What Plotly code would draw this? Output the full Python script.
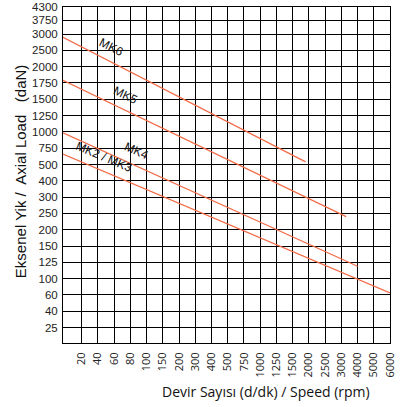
import numpy as np
import plotly.graph_objects as go

# Axis scales (tick values are evenly spaced on the chart, not linear/log)
rpm_ticks = [20, 40, 60, 80, 100, 150, 200, 300, 400, 500, 750, 1000,
             1250, 1500, 2000, 2500, 3000, 4000, 5000, 6000]
load_ticks = [25, 40, 60, 100, 125, 150, 200, 250, 300, 400, 500, 750,
              1000, 1250, 1500, 1750, 2000, 2500, 3000, 3750, 4300]

# Series: end points of each bearing line (rpm, daN); rpm 0 = left border
series_names = ['MK6', 'MK5', 'MK4', 'MK2 / MK3']
series_rpm = [[0, 1900], [0, 3300], [0, 4000], [0, 6000]]
series_load = [[2900, 540], [1790, 240], [985, 119], [660, 65]]

# position of each tick on the grid
x_pos = list(range(1, len(rpm_ticks) + 1))
y_pos = list(range(1, 20)) + [19.84, 20.66]
X_MIN, Y_MIN = -0.15, 0.05


def xscale(v):
    return np.interp(v, [0] + rpm_ticks, [X_MIN] + x_pos)


def yscale(v):
    return np.interp(v, load_ticks, y_pos)


line_color = '#f36b47'
fig = go.Figure()
for name, xs, ys in zip(series_names, series_rpm, series_load):
    fig.add_trace(go.Scatter(x=xscale(xs), y=yscale(ys), mode='lines',
                             line=dict(color=line_color, width=1.2),
                             name=name, showlegend=False, hoverinfo='skip'))

# rotated line labels (paper coords), sitting just above each line
labels = [('MK6', 0.147, 0.882, 27), ('MK5', 0.19, 0.738, 26),
          ('MK4', 0.226, 0.572, 24), ('MK2 / MK3', 0.125, 0.553, 23)]
for txt, ax, ay, ang in labels:
    fig.add_annotation(text=txt, x=ax, y=ay, xref='paper', yref='paper',
                       xanchor='center', yanchor='middle',
                       showarrow=False, textangle=ang,
                       font=dict(family='Liberation Sans, Arial', size=12, color='#111'))

# axis titles
fig.add_annotation(text='Devir Sayısı (d/dk) / Speed (rpm)', xref='paper', yref='paper',
                   x=0.62, y=-0.145, showarrow=False, xanchor='center', yanchor='middle',
                   font=dict(family='Open Sans', size=14, color='#111'))
fig.add_annotation(text='Eksenel Yik /  Axial Load   (daN)', xref='paper', yref='paper',
                   x=-0.13, y=0.51, showarrow=False, textangle=-90,
                   xanchor='center', yanchor='middle',
                   font=dict(family='Liberation Sans, Arial', size=15, color='#111'))

fig.update_xaxes(range=[X_MIN, x_pos[-1]], tickvals=x_pos,
                 ticktext=[str(v) for v in rpm_ticks], tickangle=-90,
                 showgrid=True, gridcolor='#000', gridwidth=1,
                 showline=True, linecolor='#000', linewidth=1, mirror=True,
                 zeroline=False, ticks='', ticklabelstandoff=4,
                 tickfont=dict(family='Open Sans', size=11, color='#222'))
fig.update_yaxes(range=[Y_MIN, y_pos[-1]], tickvals=y_pos,
                 ticktext=[str(v) for v in load_ticks],
                 showgrid=True, gridcolor='#000', gridwidth=1,
                 showline=True, linecolor='#000', linewidth=1, mirror=True,
                 zeroline=False, ticks='', ticklabelstandoff=2,
                 tickfont=dict(family='Liberation Sans, Arial', size=11.5, color='#222'))

fig.update_layout(width=407, height=407, autosize=False,
                  margin=dict(l=63, r=17, t=7, b=64, pad=0),
                  paper_bgcolor='white', plot_bgcolor='white',
                  template='none')

# page body has a default 8px margin; remove it so the chart fills the window
fig.write_html('out.html', config={'displayModeBar': False},
               post_script="document.body.style.margin='0';")
